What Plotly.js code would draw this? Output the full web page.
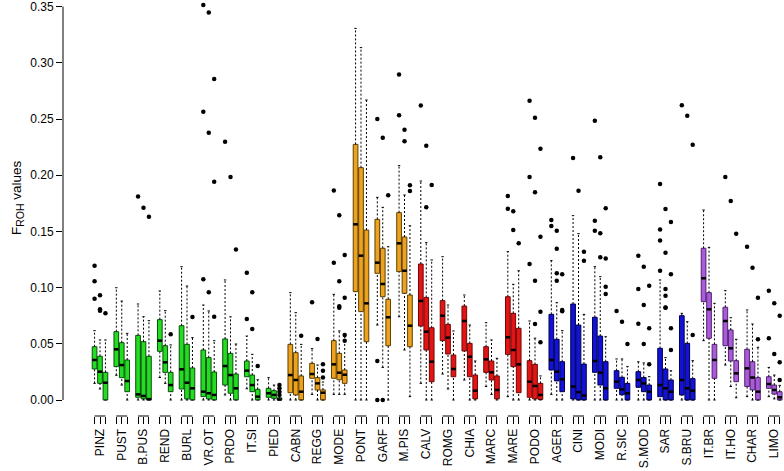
<!DOCTYPE html>
<html>
<head>
<meta charset="utf-8">
<script src="https://cdn.plot.ly/plotly-3.0.1.min.js"></script>
<style>html,body{margin:0;padding:0;background:#fff;}#chart{width:784px;height:471px;}</style>
</head>
<body>
<div id="chart"></div>
<script>
// ---- data ----
const breeds = ["PINZ","PUST","B.PUS","REND","BURL","VR.OT","PRDO","IT.SI","PIED",
  "CABN","REGG","MODE","PONT","GARF","M.PIS",
  "CALV","ROMG","CHIA","MARC","MARE","PODO",
  "AGER","CINI","MODI","R.SIC","S.MOD","SAR","S.BRU",
  "IT.BR","IT.HO","CHAR","LIMO"];
const groupSizes = [9, 6, 6, 7, 4];
const fills   = ["#22dd22", "#eca21f", "#e41414", "#1212d8", "#ab5ad9"];
const borders = ["#0b4f0b", "#5e4000", "#6e0808", "#00004f", "#4f2470"];

// three boxes per breed, in breed order
const q1 = [
  0.0276,0.0148,0.0,   0.0297,0.0199,0.0074, 0.0024,0.0010,0.0,   0.0433,0.0246,0.0074,
  0.0098,0.0010,0.0,   0.0030,0.0010,0.0,    0.0133,0.0060,0.0,   0.0207,0.0074,0.0,
  0.0024,0.0015,0.0,
  0.0065,0.0045,0.0,   0.0193,0.0089,0.0,    0.0193,0.0180,0.0148, 0.0964,0.0786,0.0519,
  0.1127,0.0919,0.0483, 0.1142,0.0949,0.0474,
  0.0658,0.0445,0.0163, 0.0528,0.0409,0.0207, 0.0436,0.0207,0.0010, 0.0246,0.0178,0.0010,
  0.0406,0.0297,0.0065, 0.0024,0.0010,0.0005,
  0.0267,0.0170,0.0074, 0.0010,0.0,0.0,     0.0246,0.0133,0.0,   0.0104,0.0047,0.0,
  0.0113,0.0074,0.0,   0.0030,0.0,0.0,      0.0045,0.0,0.0,
  0.0875,0.0549,0.0193, 0.0483,0.0347,0.0163, 0.0120,0.0090,0.0,  0.0104,0.0053,0.0
];
const med = [
  0.0356,0.0252,0.0154, 0.0451,0.0311,0.0169, 0.0050,0.0036,0.0008, 0.0528,0.0335,0.0133,
  0.0273,0.0154,0.0104, 0.0074,0.0060,0.0045, 0.0302,0.0222,0.0104, 0.0261,0.0133,0.0030,
  0.0060,0.0045,0.0005,
  0.0222,0.0178,0.0074, 0.0231,0.0148,0.0065, 0.0317,0.0243,0.0225, 0.1563,0.1284,0.0860,
  0.1222,0.1032,0.0736, 0.1394,0.1150,0.0661,
  0.0881,0.0608,0.0341, 0.0750,0.0555,0.0276, 0.0703,0.0385,0.0083, 0.0362,0.0246,0.0089,
  0.0558,0.0445,0.0317, 0.0163,0.0125,0.0045,
  0.0356,0.0252,0.0184, 0.0120,0.0070,0.0040, 0.0347,0.0243,0.0104, 0.0163,0.0095,0.0059,
  0.0178,0.0148,0.0074, 0.0133,0.0104,0.0074, 0.0178,0.0104,0.0083,
  0.1083,0.0807,0.0356, 0.0703,0.0460,0.0237, 0.0282,0.0200,0.0074, 0.0142,0.0089,0.0024
];
const q3 = [
  0.0474,0.0389,0.0246, 0.0608,0.0510,0.0356, 0.0575,0.0519,0.0389, 0.0715,0.0483,0.0246,
  0.0661,0.0495,0.0285, 0.0445,0.0377,0.0249, 0.0543,0.0415,0.0231, 0.0347,0.0222,0.0095,
  0.0104,0.0083,0.0020,
  0.0495,0.0421,0.0214, 0.0326,0.0199,0.0090, 0.0528,0.0415,0.0267, 0.2274,0.2067,0.1512,
  0.1607,0.1350,0.0896, 0.1667,0.1450,0.0934,
  0.1210,0.0913,0.0643, 0.0884,0.0673,0.0400, 0.0836,0.0504,0.0222, 0.0474,0.0347,0.0214,
  0.0919,0.0771,0.0638, 0.0350,0.0317,0.0148,
  0.0762,0.0540,0.0341, 0.0854,0.0667,0.0320, 0.0736,0.0569,0.0341, 0.0261,0.0202,0.0148,
  0.0252,0.0200,0.0133, 0.0460,0.0276,0.0178, 0.0750,0.0504,0.0190,
  0.1350,0.0955,0.0495, 0.0825,0.0623,0.0350, 0.0451,0.0341,0.0199, 0.0207,0.0133,0.0074
];
const lo = [
  0.0148,0.0098,0.0,   0.0220,0.0133,0.0,    0.0,0.0,0.0,         0.0200,0.0148,0.0,
  0.0,0.0,0.0,         0.0,0.0,0.0,          0.0045,0.0,0.0,      0.0100,0.0,0.0,
  0.0,0.0,0.0,
  0.0,0.0,0.0,         0.0050,0.0,0.0,       0.0050,0.0050,0.0050, 0.0,0.0,0.0,
  0.0667,0.0290,0.0,   0.0741,0.0445,0.0030,
  0.0148,0.0,0.0,      0.0231,0.0098,0.0,    0.0178,0.0,0.0,      0.0120,0.0050,0.0,
  0.0030,0.0,0.0,      0.0,0.0,0.0,
  0.0050,0.0,0.0,      0.0,0.0,0.0,          0.0,0.0,0.0,         0.0,0.0,0.0,
  0.0,0.0,0.0,         0.0,0.0,0.0,          0.0,0.0,0.0,
  0.0528,0.0,0.0,      0.0311,0.0120,0.0020, 0.0030,0.0,0.0,      0.0030,0.0010,0.0
];
const hi = [
  0.0617,0.0534,0.0534, 0.0999,0.0880,0.0593, 0.0854,0.0741,0.0706, 0.0970,0.0795,0.0490,
  0.1186,0.1014,0.0555, 0.0845,0.0792,0.0528, 0.1068,0.0740,0.0498, 0.0569,0.0406,0.0180,
  0.0199,0.0133,0.0040,
  0.0955,0.0777,0.0495, 0.0457,0.0311,0.0160, 0.0940,0.0614,0.0563, 0.3306,0.3135,0.2669,
  0.1803,0.1714,0.1364, 0.2085,0.1824,0.1550,
  0.1948,0.1400,0.1246, 0.1275,0.0845,0.0614, 0.0934,0.0667,0.0347, 0.0688,0.0534,0.0371,
  0.1320,0.1029,0.1150, 0.0703,0.0550,0.0214,
  0.1240,0.0866,0.0617, 0.1640,0.1480,0.0762, 0.1186,0.1097,0.0563, 0.0365,0.0365,0.0297,
  0.0340,0.0330,0.0207, 0.1068,0.0377,0.0260, 0.0771,0.0697,0.0350,
  0.1690,0.1358,0.0860, 0.0973,0.0732,0.0540, 0.0801,0.0676,0.0469, 0.0290,0.0222,0.0130
];
const outliers = [
  [0.1195,0.1056,0.0901],[0.0931,0.0807,0.0795],[0.0771],
  [],[],[],
  [0.181],[0.171],[0.163],
  [],[],[0.0584],
  [],[],[0.0738],
  [0.3514,0.2565,0.1074],[0.3447,0.2378,0.0958],[0.2856,0.1942,0.0741],
  [0.2298],[0.1984],[0.134],
  [0.1133,0.0721],[0.0958,0.0632],[0.0302],
  [],[],[0.0133,0.0104,0.0074,0.0045],
  [],[],[0.0572],
  [0.0869],[0.0543],[0.0317,0.0261,0.020],
  [0.1865,0.1222],[0.1643,0.1056,0.0835,0.0820],[0.129,0.091,0.0578,0.0528],
  [],[],[],
  [0.25,0.0347,0.0],[0.2334,0.0],[0.1821],
  [0.2897,0.2533],[0.2405,0.2301],[0.191,0.186],
  [0.2619],[0.2263,0.1714],[0.1913],
  [],[],[],
  [],[],[],
  [],[],[],
  [0.1815,0.1702],[0.1679,0.1512],[0.1394],
  [0.2663,0.1984,0.121],[0.2512,0.1848,0.1062,0.0676],[0.2236,0.1453,0.0786,0.0513],
  [0.1601,0.1548],[0.1506,0.1346,0.1127,0.1062],[0.1118,0.0801,0.079],
  [0.2153],[0.1862],[0.132,0.124],
  [0.2485,0.1595,0.1506],[0.2159,0.1483,0.127],[0.1705,0.126,0.1008,0.0943],
  [0.0792],[0.0697],[0.0498],
  [0.1284,0.0988,0.0679],[0.1186,0.0845,0.0498],[0.1017,0.0638,0.0317],
  [0.1922,0.1518,0.142,0.115],[0.17,0.131,0.0988,0.0928,0.0823,0.082],[0.1584,0.1118,0.0638,0.0445],
  [0.2622],[0.253],[0.2272,0.0578],
  [],[],[],
  [0.1984],[0.177],[0.148],
  [0.1364],[0.1177],[0.091,0.054],
  [0.0973,0.0549],[0.086,0.0409],[0.075,0.0335,0.0178]
];
const yTicks = [0, 0.05, 0.10, 0.15, 0.20, 0.25, 0.30, 0.35];
const yTitle = 'F<sub><span style="font-size:10.5px">ROH</span></sub> values';

// ---- build ----
const perBreed = 3, step = 4;
const pos = []; const breedOf = [];
breeds.forEach((b, i) => { for (let j = 0; j < perBreed; j++) { pos.push(step * i + 1 + j); breedOf.push(i); } });
const colorOf = [];
groupSizes.forEach((n, g) => { for (let k = 0; k < n; k++) colorOf.push(g); });

const traces = [];
groupSizes.forEach((n, g) => {
  const idx = pos.map((p, k) => k).filter(k => colorOf[breedOf[k]] === g);
  traces.push({
    type: 'box', x: idx.map(k => pos[k]),
    q1: idx.map(k => q1[k]), median: idx.map(k => med[k]), q3: idx.map(k => q3[k]),
    lowerfence: idx.map(k => q1[k]), upperfence: idx.map(k => q3[k]),
    width: 0.86, whiskerwidth: 0, boxpoints: false,
    fillcolor: fills[g], line: {color: borders[g], width: 1},
    hoverinfo: 'skip', showlegend: false
  });
});

const hw = 0.43, sw = 0.22;
const wx = [], wy = [], sx = [], sy = [], mx = [], my = [], ox = [], oy = [];
pos.forEach((u, k) => {
  if (hi[k] > q3[k]) { wx.push(u, u, null); wy.push(q3[k], hi[k], null); }
  if (lo[k] < q1[k]) { wx.push(u, u, null); wy.push(lo[k], q1[k], null); }
  sx.push(u - sw, u + sw, null, u - sw, u + sw, null);
  sy.push(hi[k], hi[k], null, lo[k], lo[k], null);
  mx.push(u - hw, u + hw, null); my.push(med[k], med[k], null);
  outliers[k].forEach(v => { ox.push(u); oy.push(v); });
});
traces.push({type:'scatter', mode:'lines', x: wx, y: wy, line:{color:'#000', width:1, dash:'2px,2px'}, hoverinfo:'skip', showlegend:false});
traces.push({type:'scatter', mode:'lines', x: sx, y: sy, line:{color:'#000', width:1}, hoverinfo:'skip', showlegend:false});
traces.push({type:'scatter', mode:'lines', x: mx, y: my, line:{color:'#000', width:2.5}, hoverinfo:'skip', showlegend:false});
traces.push({type:'scatter', mode:'markers', x: ox, y: oy, marker:{color:'#000', size:4.5}, hoverinfo:'skip', showlegend:false});

const tickText = pos.map((p, k) => (k % perBreed === 1) ? breeds[breedOf[k]] : '');
const shapes = [{type:'line', xref:'paper', yref:'y', x0:0, x1:0, y0:yTicks[0], y1:yTicks[yTicks.length-1], line:{color:'#000', width:1}}];
breeds.forEach((b, i) => {
  shapes.push({type:'line', xref:'x', yref:'paper', x0: step*i+1, x1: step*i+perBreed, y0:0, y1:0, line:{color:'#000', width:1}});
});

const font = {family:'"Liberation Sans", Arial, sans-serif', size:12, color:'#000'};
const layout = {
  width:784, height:471, margin:{l:63, r:0, t:0, b:55, pad:0},
  paper_bgcolor:'#fff', plot_bgcolor:'#fff', showlegend:false, font: font,
  xaxis:{range:[-4.805, 127.79], tickmode:'array', tickvals: pos, ticktext: tickText,
         tickangle:-90, ticks:'outside', ticklen:7, tickwidth:1, tickcolor:'#000',
         ticklabeloverflow:'allow',
         showgrid:false, zeroline:false, showline:false, tickfont: font, fixedrange:true},
  yaxis:{range:[-0.01423, 0.35587], tickmode:'array', tickvals: yTicks, ticktext: yTicks.map(v => v.toFixed(2)),
         ticks:'outside', ticklen:6, tickwidth:1, tickcolor:'#000', ticklabeloverflow:'allow',
         showgrid:false, zeroline:false, showline:false, tickfont: font},
  annotations:[{text: yTitle, textangle:-90, xref:'paper', yref:'paper', x:-0.064, y:0.526,
                xanchor:'center', yanchor:'middle', showarrow:false,
                font:{family:font.family, size:13.5, color:'#000'}}],
  shapes: shapes
};
Plotly.newPlot('chart', traces, layout, {staticPlot:true, displayModeBar:false});
</script>
</body>
</html>
